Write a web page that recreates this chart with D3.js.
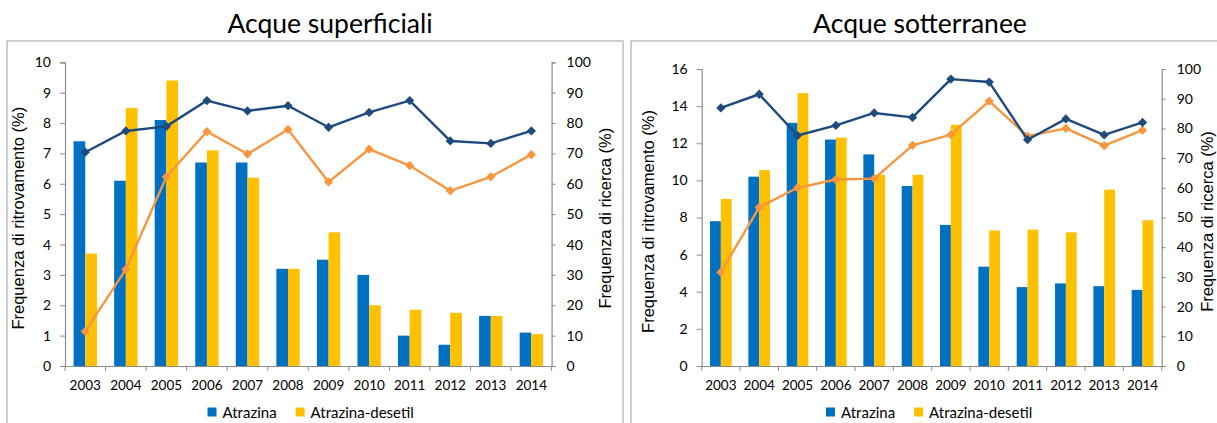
<!DOCTYPE html>
<html>
<head>
<meta charset="utf-8">
<script src="https://cdn.jsdelivr.net/npm/d3@7"></script>
<style>
  html, body { margin: 0; padding: 0; background: #fff; }
  svg { display: block; }
</style>
</head>
<body>
<svg id="chart" width="1217" height="423"></svg>
<script>
// ---- Data -------------------------------------------------------------
const years = ["2003","2004","2005","2006","2007","2008","2009","2010","2011","2012","2013","2014"];

// Surface water: detection frequency (%) – bars, left axis
const surfAtrazina = [7.4, 6.1, 8.1, 6.7, 6.7, 3.2, 3.5, 3.0, 1.0, 0.7, 1.65, 1.1];
const surfDesetil  = [3.7, 8.5, 9.4, 7.1, 6.2, 3.2, 4.4, 2.0, 1.85, 1.75, 1.65, 1.05];
// Surface water: search frequency (%) – lines, right axis
const surfRicercaAtrazina = [70.4, 77.4, 78.9, 87.4, 84.0, 85.7, 78.6, 83.5, 87.4, 74.1, 73.3, 77.4];
const surfRicercaDesetil  = [11.4, 31.8, 62.3, 77.2, 69.8, 77.9, 60.6, 71.4, 66.0, 57.7, 62.3, 69.6];

// Groundwater: detection frequency (%) – bars, left axis
const groundAtrazina = [7.8, 10.2, 13.1, 12.2, 11.4, 9.7, 7.6, 5.35, 4.25, 4.45, 4.3, 4.1];
const groundDesetil  = [9.0, 10.55, 14.7, 12.3, 10.3, 10.3, 13.0, 7.3, 7.35, 7.2, 9.5, 7.85];
// Groundwater: search frequency (%) – lines, right axis
const groundRicercaAtrazina = [86.9, 91.5, 77.6, 81.0, 85.2, 83.7, 96.6, 95.6, 76.2, 83.2, 77.8, 82.0];
const groundRicercaDesetil  = [31.6, 53.4, 60.0, 62.8, 63.1, 74.3, 77.9, 89.2, 77.4, 80.0, 74.2, 79.4];

// Tick labels
const surfLeftTicks   = [0, 1, 2, 3, 4, 5, 6, 7, 8, 9, 10];
const groundLeftTicks = [0, 2, 4, 6, 8, 10, 12, 14, 16];
const rightTicks      = [0, 10, 20, 30, 40, 50, 60, 70, 80, 90, 100];

const seriesNames = ["Atrazina", "Atrazina-desetil"];
const titles = ["Acque superficiali", "Acque sotterranee"];
const leftAxisTitle = "Frequenza di ritrovamento (%)";
const rightAxisTitle = "Frequenza di ricerca (%)";

// ---- Styling ------------------------------------------------------------
const COL_BAR_A = "#0070C0";
const COL_BAR_D = "#FFC000";
const COL_LINE_A = "#1F4A7E";
const COL_LINE_D = "#F7963E";
const AXIS_COL = "#8C8C8C";
const FRAME_COL = "#C3C3C3";
const CAL = "Lato, 'Liberation Sans', sans-serif";
const ARIAL = "'Liberation Sans', Arial, sans-serif";

const svg = d3.select("#chart");
svg.append("rect").attr("width", 1217).attr("height", 423).attr("fill", "#fff");

function drawPanel(p) {
  const g = svg.append("g");

  // outer chart frame
  g.append("rect")
    .attr("x", p.frame[0]).attr("y", p.frame[1])
    .attr("width", p.frame[2]).attr("height", p.frame[3])
    .attr("fill", "none").attr("stroke", FRAME_COL).attr("stroke-width", 1.6);

  // title
  g.append("text")
    .attr("x", p.titleX).attr("y", 33)
    .attr("text-anchor", "middle")
    .attr("font-family", CAL).attr("font-size", 26.5)
    .attr("fill", "#000")
    .text(p.title);

  const x = d3.scaleBand().domain(years).range([p.x0, p.x1]).padding(0);
  const yL = d3.scaleLinear().domain([0, p.leftMax]).range([p.yBottom, p.yTop]);
  const yR = d3.scaleLinear().domain([0, 100]).range([p.yBottom, p.yTop]);
  const bw = x.bandwidth() * p.barFrac;

  // bars
  const bars = g.append("g");
  bars.selectAll("rect.a").data(years).join("rect")
    .attr("x", d => x(d) + x.bandwidth() / 2 - bw)
    .attr("y", (d, i) => yL(p.barsA[i]))
    .attr("width", bw)
    .attr("height", (d, i) => yL(0) - yL(p.barsA[i]))
    .attr("fill", COL_BAR_A);
  bars.selectAll("rect.d").data(years).join("rect")
    .attr("x", d => x(d) + x.bandwidth() / 2)
    .attr("y", (d, i) => yL(p.barsD[i]))
    .attr("width", bw)
    .attr("height", (d, i) => yL(0) - yL(p.barsD[i]))
    .attr("fill", COL_BAR_D);

  // left axis
  const axL = g.append("g").attr("transform", `translate(${p.x0},0)`)
    .call(d3.axisLeft(yL).tickValues(p.leftTicks).tickSize(5).tickPadding(9).tickFormat(d3.format("d")));
  // right axis
  const axR = g.append("g").attr("transform", `translate(${p.x1},0)`)
    .call(d3.axisRight(yR).tickValues(rightTicks).tickSize(4).tickPadding(11).tickFormat(d3.format("d")));
  // bottom axis with ticks on category boundaries
  const axB = g.append("g").attr("transform", `translate(0,${p.yBottom})`)
    .call(d3.axisBottom(x).tickSize(0).tickPadding(14));
  axB.selectAll(".bound").data(d3.range(years.length + 1)).join("line")
    .attr("class", "bound")
    .attr("x1", i => p.x0 + i * x.bandwidth()).attr("x2", i => p.x0 + i * x.bandwidth())
    .attr("y1", 0).attr("y2", 5)
    .attr("stroke", AXIS_COL);

  [axL, axR, axB].forEach(a => {
    a.select(".domain").attr("stroke", AXIS_COL).attr("stroke-width", 1.2);
    a.selectAll(".tick line").attr("stroke", AXIS_COL);
    a.selectAll("text").attr("font-family", CAL).attr("font-size", 14).attr("fill", "#000");
  });
  axB.selectAll("text").attr("font-size", 13.5);

  // lines
  const lineGen = yArr => d3.line()
    .x(d => x(d) + x.bandwidth() / 2)
    .y((d, i) => yR(yArr[i]));
  const diamond = d3.symbol().type(d3.symbolDiamond2).size(55);

  [[p.lineD, COL_LINE_D], [p.lineA, COL_LINE_A]].forEach(([arr, col]) => {
    g.append("path").datum(years)
      .attr("d", lineGen(arr))
      .attr("fill", "none").attr("stroke", col).attr("stroke-width", 2.4)
      .attr("stroke-linejoin", "round");
    g.append("g").selectAll("path").data(years).join("path")
      .attr("transform", (d, i) => `translate(${x(d) + x.bandwidth() / 2},${yR(arr[i])})`)
      .attr("d", diamond)
      .attr("fill", col);
  });

  // axis titles
  const midY = (p.yTop + p.yBottom) / 2 + 4;
  g.append("text")
    .attr("transform", `translate(${p.leftTitleX},${midY}) rotate(-90)`)
    .attr("text-anchor", "middle").attr("dominant-baseline", "central")
    .attr("font-family", ARIAL).attr("font-size", 16.5).attr("fill", "#000")
    .text(leftAxisTitle);
  g.append("text")
    .attr("transform", `translate(${p.rightTitleX},${midY}) rotate(-90)`)
    .attr("text-anchor", "middle").attr("dominant-baseline", "central")
    .attr("font-family", ARIAL).attr("font-size", 16.5).attr("fill", "#000")
    .text(rightAxisTitle);

  // legend
  const lg = g.append("g").attr("transform", `translate(${p.legendX},412)`);
  let cx = 0;
  [[seriesNames[0], COL_BAR_A], [seriesNames[1], COL_BAR_D]].forEach(([name, col], i) => {
    lg.append("rect").attr("x", cx).attr("y", -4.5).attr("width", 9).attr("height", 9).attr("fill", col);
    const t = lg.append("text").attr("x", cx + 15).attr("y", 0)
      .attr("dominant-baseline", "central")
      .attr("font-family", CAL).attr("font-size", 15).attr("fill", "#000")
      .text(name);
    cx += 15 + t.node().getComputedTextLength() + 19;
  });
}

drawPanel({
  title: titles[0], titleX: 330,
  frame: [7, 41, 616, 400],
  x0: 65, x1: 551.6, yTop: 62.3, yBottom: 366,
  leftMax: 10, leftTicks: surfLeftTicks, barFrac: 0.288,
  barsA: surfAtrazina, barsD: surfDesetil,
  lineA: surfRicercaAtrazina, lineD: surfRicercaDesetil,
  leftTitleX: 18, rightTitleX: 605,
  legendX: 207.5
});

drawPanel({
  title: titles[1], titleX: 920,
  frame: [631, 41, 600, 400],
  x0: 701.7, x1: 1161.7, yTop: 69, yBottom: 366,
  leftMax: 16, leftTicks: groundLeftTicks, barFrac: 0.283,
  barsA: groundAtrazina, barsD: groundDesetil,
  lineA: groundRicercaAtrazina, lineD: groundRicercaDesetil,
  leftTitleX: 648, rightTitleX: 1207,
  legendX: 826
});
</script>
</body>
</html>
